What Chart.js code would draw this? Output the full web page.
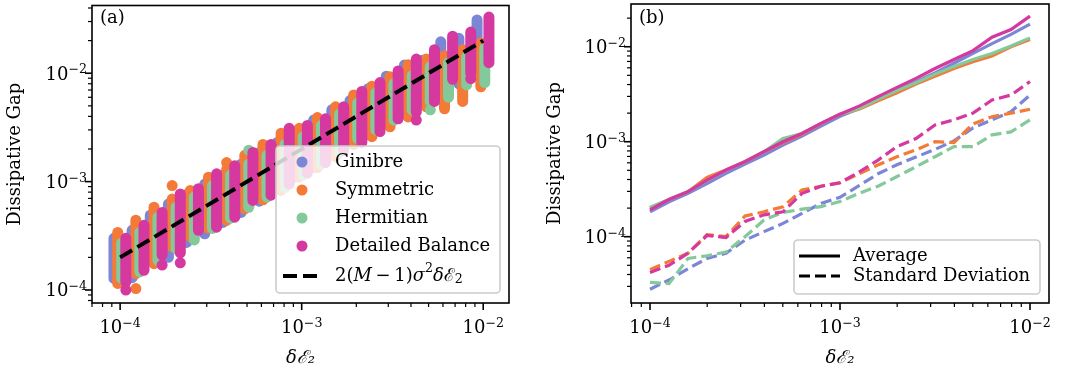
<!DOCTYPE html>
<html>
<head>
<meta charset="utf-8">
<script src="https://cdn.jsdelivr.net/npm/chart.js@4.4.0/dist/chart.umd.min.js"></script>
<style>
  body { margin: 0; background: #fff; }
  .panel { position: absolute; top: 0; }
  #wrapA { left: 0; }
  #wrapB { left: 545px; }
</style>
</head>
<body>
<div class="panel" id="wrapA"><canvas id="chartA" width="545" height="377"></canvas></div>
<div class="panel" id="wrapB"><canvas id="chartB" width="523" height="377"></canvas></div>
<script>
// energy gap values (x axis, log spaced)
const deltaE = [1.0e-4, 1.259e-4, 1.585e-4, 1.995e-4, 2.512e-4, 3.162e-4, 3.981e-4, 5.012e-4, 6.310e-4, 7.943e-4,
  1.0e-3, 1.259e-3, 1.585e-3, 1.995e-3, 2.512e-3, 3.162e-3, 3.981e-3, 5.012e-3, 6.310e-3, 7.943e-3, 1.0e-2];
const ensembles = ['Ginibre', 'Symmetric', 'Hermitian', 'Detailed Balance'];
const colors = ['#7b86d6', '#f47a38', '#84c99a', '#d5389e'];
// small horizontal shift so the four ensembles sit side by side
const xShift = [0.925, 0.97, 1.02, 1.075];

// (a) spread of sampled gaps: lowest and highest sample per column
const ginibreLo = [1.28e-4, 1.3e-4, 1.95e-4, 2.0e-4, 2.75e-4, 3.3e-4, 4.2e-4, 5.4e-4, 6.6e-4, 8.5e-4, 1.1e-3, 1.35e-3, 1.75e-3, 2.3e-3, 2.7e-3, 3.5e-3, 4.4e-3, 5.5e-3, 6.8e-3, 8.0e-3, 1.0e-2];
const ginibreHi = [3.0e-4, 3.55e-4, 4.9e-4, 6.2e-4, 7.6e-4, 9.5e-4, 1.15e-3, 1.45e-3, 1.85e-3, 2.3e-3, 2.9e-3, 3.7e-3, 4.6e-3, 5.6e-3, 7.2e-3, 9.4e-3, 1.19e-2, 1.32e-2, 1.95e-2, 2.1e-2, 3.1e-2];
const symmetricLo = [1.15e-4, 1.42e-4, 1.9e-4, 2.5e-4, 3.1e-4, 3.7e-4, 4.4e-4, 5.6e-4, 6.8e-4, 8.3e-4, 1.1e-3, 1.35e-3, 1.7e-3, 2.2e-3, 2.6e-3, 3.2e-3, 4.6e-3, 4.9e-3, 4.7e-3, 5.5e-3, 7.5e-3];
const symmetricHi = [3.4e-4, 4.4e-4, 5.8e-4, 6.9e-4, 8.3e-4, 1.1e-3, 1.3e-3, 1.75e-3, 2.2e-3, 2.8e-3, 3.1e-3, 3.9e-3, 4.9e-3, 6.3e-3, 7.6e-3, 9.3e-3, 1.2e-2, 1.35e-2, 1.45e-2, 1.65e-2, 1.9e-2];
const hermitianLo = [1.28e-4, 1.47e-4, 1.88e-4, 2.4e-4, 2.9e-4, 3.7e-4, 4.6e-4, 5.8e-4, 7.2e-4, 8.8e-4, 1.15e-3, 1.45e-3, 1.85e-3, 2.5e-3, 3.0e-3, 3.7e-3, 4.6e-3, 5.5e-3, 6.0e-3, 7.8e-3, 8.2e-3];
const hermitianHi = [2.7e-4, 3.4e-4, 4.7e-4, 5.8e-4, 7.2e-4, 9.2e-4, 1.15e-3, 1.45e-3, 1.75e-3, 2.2e-3, 2.6e-3, 3.3e-3, 4.2e-3, 5.3e-3, 6.6e-3, 8.0e-3, 9.5e-3, 1.15e-2, 1.25e-2, 1.4e-2, 1.7e-2];
const balanceLo = [1.19e-4, 1.52e-4, 2.1e-4, 2.2e-4, 3.55e-4, 3.8e-4, 4.7e-4, 6.7e-4, 7.5e-4, 9.5e-4, 1.2e-3, 1.5e-3, 1.95e-3, 2.3e-3, 2.9e-3, 3.8e-3, 4.4e-3, 5.5e-3, 8.8e-3, 1.0e-2, 1.25e-2];
const balanceHi = [3.0e-4, 3.95e-4, 5.2e-4, 7.7e-4, 8.6e-4, 1.18e-3, 1.4e-3, 1.86e-3, 2.2e-3, 3.1e-3, 3.3e-3, 3.8e-3, 4.9e-3, 6.8e-3, 8.2e-3, 1.05e-2, 1.35e-2, 1.65e-2, 2.2e-2, 2.4e-2, 3.3e-2];
// isolated samples outside the dense columns: [column index, gap]
const ginibreOut = [[7, 5.2e-4]];
const symmetricOut = [[1, 1.03e-4], [2, 1.75e-4], [3, 9.2e-4], [6, 1.5e-3], [16, 3.95e-3]];
const hermitianOut = [[7, 1.95e-3], [17, 4.6e-3]];
const balanceOut = [[0, 1.0e-4], [2, 1.7e-4], [3, 1.78e-4], [16, 3.7e-3], [19, 8.9e-3]];
// theory line 2(M-1)sigma^2 dE
const theoryX = [1.0e-4, 1.0e-2];
const theoryY = [2.0e-4, 2.0e-2];

// (b) average and standard deviation of the gap
const ginibreAvg = [1.83e-4, 2.33e-4, 2.86e-4, 3.63e-4, 4.64e-4, 5.82e-4, 7.24e-4, 9.2e-4, 1.15e-3, 1.46e-3, 1.85e-3, 2.24e-3, 2.79e-3, 3.5e-3, 4.28e-3, 5.3e-3, 6.7e-3, 8.5e-3, 1.08e-2, 1.35e-2, 1.73e-2];
const symmetricAvg = [1.99e-4, 2.47e-4, 2.98e-4, 4.2e-4, 5.04e-4, 6.2e-4, 7.85e-4, 9.8e-4, 1.2e-3, 1.55e-3, 1.95e-3, 2.2e-3, 2.7e-3, 3.28e-3, 4.05e-3, 4.9e-3, 5.9e-3, 6.95e-3, 7.97e-3, 1.0e-2, 1.19e-2];
const hermitianAvg = [2.04e-4, 2.47e-4, 3.0e-4, 3.9e-4, 5.0e-4, 6.16e-4, 7.85e-4, 1.08e-3, 1.22e-3, 1.56e-3, 1.95e-3, 2.24e-3, 2.79e-3, 3.45e-3, 4.17e-3, 5.15e-3, 6.2e-3, 7.35e-3, 8.5e-3, 1.02e-2, 1.24e-2];
const balanceAvg = [1.92e-4, 2.47e-4, 2.98e-4, 3.95e-4, 5.04e-4, 6.16e-4, 7.85e-4, 1.0e-3, 1.22e-3, 1.56e-3, 1.95e-3, 2.37e-3, 2.98e-3, 3.73e-3, 4.64e-3, 5.9e-3, 7.35e-3, 9.1e-3, 1.26e-2, 1.52e-2, 2.1e-2];
const ginibreStd = [2.8e-5, 3.5e-5, 4.6e-5, 5.9e-5, 6.7e-5, 9.2e-5, 1.13e-4, 1.38e-4, 1.76e-4, 2.24e-4, 2.6e-4, 3.44e-4, 4.6e-4, 5.73e-4, 6.9e-4, 8.3e-4, 1.02e-3, 1.4e-3, 1.7e-3, 2.07e-3, 3.1e-3];
const symmetricStd = [4.5e-5, 5.5e-5, 6.7e-5, 1.05e-4, 1.0e-4, 1.65e-4, 1.83e-4, 2.07e-4, 3.1e-4, 3.4e-4, 3.7e-4, 4.6e-4, 5.7e-4, 6.95e-4, 8.2e-4, 1.0e-3, 9.8e-4, 1.54e-3, 1.83e-3, 2.0e-3, 2.2e-3];
const hermitianStd = [3.3e-5, 3.2e-5, 5.9e-5, 6.3e-5, 6.9e-5, 1.0e-4, 1.5e-4, 1.8e-4, 1.95e-4, 2.07e-4, 2.35e-4, 2.86e-4, 3.4e-4, 4.3e-4, 5.45e-4, 6.95e-4, 8.9e-4, 8.9e-4, 1.18e-3, 1.27e-3, 1.7e-3];
const balanceStd = [4.2e-5, 5.0e-5, 6.7e-5, 1.03e-4, 9.8e-5, 1.45e-4, 1.7e-4, 1.83e-4, 2.86e-4, 3.4e-4, 3.7e-4, 4.8e-4, 6.4e-4, 8.9e-4, 1.08e-3, 1.5e-3, 1.7e-3, 2.0e-3, 2.75e-3, 3.1e-3, 4.3e-3];

const SERIF = "'DejaVu Serif', serif";
const FS = 18;
const SUPFS = 12.6;
Chart.defaults.font.family = SERIF;
Chart.defaults.color = '#000';

const isDecade = v => Math.abs(Math.log10(v) - Math.round(Math.log10(v))) < 1e-6;

//log axis with matplotlib-like layout (frame, ticks and 10^n labels drawn by plugin)
const logAxis = (pos, min, max, title, size, titlePad) => ({
  type: 'logarithmic', position: pos, min, max,
  grid: {display: false, drawTicks: false},
  border: {display: false},
  ticks: {display: false, autoSkip: false},
  title: {
    display: true, text: title, padding: titlePad,
    font: {size: FS, style: pos === 'bottom' ? 'italic' : 'normal'}
  },
  afterFit: s => { if (pos === 'bottom') s.height = size; else s.width = size; }
});

// "10" with a raised exponent, like matplotlib's mathtext labels
const drawPow = (ctx, x, y, exp, align) => {
  const base = '10';
  const sup = (exp < 0 ? '\u2212' : '') + Math.abs(exp);
  ctx.font = `${FS}px ${SERIF}`;
  const wb = ctx.measureText(base).width;
  ctx.font = `${SUPFS}px ${SERIF}`;
  const ws = ctx.measureText(sup).width;
  const x0 = align === 'center' ? x - (wb + ws) / 2 : x - wb - ws;
  ctx.textAlign = 'left';
  ctx.textBaseline = 'alphabetic';
  ctx.font = `${FS}px ${SERIF}`;
  ctx.fillText(base, x0, y);
  ctx.font = `${SUPFS}px ${SERIF}`;
  ctx.fillText(sup, x0 + wb, y - 6.5);
};

const frameTicks = {
  id: 'frameTicks',
  afterDraw(chart) {
    const {ctx, chartArea: a, scales} = chart;
    ctx.save();
    ctx.strokeStyle = '#000';
    ctx.fillStyle = '#000';
    [scales.x, scales.y].forEach(s => {
      const e0 = Math.floor(Math.log10(s.min)), e1 = Math.ceil(Math.log10(s.max));
      for (let e = e0; e <= e1; e++) {
        for (let m = 1; m <= 9; m++) {
          const v = m * Math.pow(10, e);
          if (v < s.min || v > s.max) continue;
          const p = s.getPixelForValue(v);
          const len = m === 1 ? 7 : 4;
          ctx.lineWidth = m === 1 ? 1.6 : 1.2;
          ctx.beginPath();
          if (s.isHorizontal()) { ctx.moveTo(p, a.bottom); ctx.lineTo(p, a.bottom + len); }
          else { ctx.moveTo(a.left, p); ctx.lineTo(a.left - len, p); }
          ctx.stroke();
          if (isDecade(v)) {
            if (s.isHorizontal()) drawPow(ctx, p, a.bottom + 30, e, 'center');
            else drawPow(ctx, a.left - 5, p + 6.5, e, 'right');
          }
        }
      }
    });
    ctx.lineWidth = 1.6;
    ctx.strokeRect(a.left, a.top, a.right - a.left, a.bottom - a.top);
    ctx.restore();
  }
};

const legendBox = (ctx, x, y, w, h) => {
  ctx.beginPath();
  ctx.roundRect(x, y, w, h, 4);
  ctx.fillStyle = 'rgba(255,255,255,0.8)';
  ctx.fill();
  ctx.strokeStyle = '#cccccc';
  ctx.lineWidth = 1.6;
  ctx.stroke();
};

// draws 2(M-1)sigma^2 dE_2 piece by piece
const drawMath = (ctx, x, y) => {
  const parts = [['2(', 'normal', 0, FS], ['M', 'italic', 0, FS], ['\u2009\u2212\u2009', 'normal', 0, FS], ['1)', 'normal', 0, FS],
    ['\u03c3', 'italic', 0, FS], ['2', 'normal', -7, SUPFS], ['\u03b4', 'italic', 0, FS], ['\u2130', 'normal', 0, FS], ['2', 'normal', 4, SUPFS]];
  parts.forEach(([t, st, dy, sz]) => {
    ctx.font = `${st} ${sz}px ${SERIF}`;
    ctx.fillText(t, x, y + dy);
    x += ctx.measureText(t).width;
  });
};

const decorA = {
  id: 'decorA',
  afterDraw(chart) {
    const ctx = chart.ctx;
    ctx.save();
    ctx.fillStyle = '#000';
    ctx.font = `${FS}px ${SERIF}`;
    ctx.textBaseline = 'middle';
    ctx.fillText('(a)', 100, 18);
    legendBox(ctx, 276, 146, 224, 147);
    const rows = [162, 190, 218, 246];
    ensembles.forEach((name, i) => {
      ctx.fillStyle = colors[i];
      ctx.beginPath();
      ctx.arc(302, rows[i], 5.5, 0, 2 * Math.PI);
      ctx.fill();
      ctx.fillStyle = '#000';
      ctx.font = `${FS}px ${SERIF}`;
      ctx.fillText(name, 335, rows[i]);
    });
    ctx.strokeStyle = '#000';
    ctx.lineWidth = 4;
    ctx.setLineDash([14, 6]);
    ctx.beginPath();
    ctx.moveTo(283, 276);
    ctx.lineTo(320, 276);
    ctx.stroke();
    ctx.setLineDash([]);
    ctx.fillStyle = '#000';
    drawMath(ctx, 335, 276);
    ctx.restore();
  }
};

const decorB = {
  id: 'decorB',
  afterDraw(chart) {
    const ctx = chart.ctx;
    ctx.save();
    ctx.font = `${FS}px ${SERIF}`;
    ctx.textBaseline = 'middle';
    ctx.fillStyle = '#000';
    ctx.fillText('(b)', 94, 18);
    legendBox(ctx, 249, 240, 246, 54);
    ctx.strokeStyle = '#000';
    ctx.lineWidth = 3.2;
    [[256, []], [276, [11, 5]]].forEach(([yy, dash]) => {
      ctx.setLineDash(dash);
      ctx.beginPath();
      ctx.moveTo(254, yy);
      ctx.lineTo(295, yy);
      ctx.stroke();
    });
    ctx.setLineDash([]);
    ctx.fillStyle = '#000';
    ctx.font = `${FS}px ${SERIF}`;
    ctx.fillText('Average', 308, 256);
    ctx.fillText('Standard Deviation', 308, 276);
    ctx.restore();
  }
};

// vertical column of samples drawn as a round-capped stroke from low to high
const columnPoints = (lo, hi, shift) => {
  const pts = [];
  deltaE.forEach((x, k) => {
    pts.push({x: x * shift, y: lo[k]}, {x: x * shift, y: hi[k]}, {x: x * shift, y: null});
  });
  return pts;
};

const lows = [ginibreLo, symmetricLo, hermitianLo, balanceLo];
const highs = [ginibreHi, symmetricHi, hermitianHi, balanceHi];
const outs = [ginibreOut, symmetricOut, hermitianOut, balanceOut];

const setsA = [{
  data: theoryX.map((x, i) => ({x, y: theoryY[i]})),
  borderColor: '#000', borderWidth: 4, borderDash: [14, 6], pointRadius: 0, order: 0
}];
ensembles.forEach((name, i) => {
  setsA.push({
    data: columnPoints(lows[i], highs[i], xShift[i]),
    borderColor: colors[i], borderWidth: 11, borderCapStyle: 'round',
    pointRadius: 0, spanGaps: false, order: 8 - 2 * i
  });
  setsA.push({
    data: outs[i].map(([k, y]) => ({x: deltaE[k] * xShift[i], y})),
    showLine: false, pointRadius: 5.5, pointBorderWidth: 0,
    pointBackgroundColor: colors[i], order: 7 - 2 * i
  });
});

new Chart(document.getElementById('chartA'), {
  type: 'line',
  data: {datasets: setsA},
  options: {
    responsive: false, animation: false,
    layout: {padding: {left: 0, top: 4, right: 36, bottom: 0}},
    plugins: {legend: {display: false}, tooltip: {enabled: false}},
    scales: {
      x: logAxis('bottom', Math.pow(10, -4.137), Math.pow(10, -1.858), '\u03b4\u2130\u2082', 74, {top: 0, bottom: 8}),
      y: logAxis('left', Math.pow(10, -4.12), Math.pow(10, -1.375), 'Dissipative Gap', 92, {top: 4.2, bottom: 0})
    }
  },
  plugins: [frameTicks, decorA]
});

const avgs = [ginibreAvg, symmetricAvg, hermitianAvg, balanceAvg];
const stds = [ginibreStd, symmetricStd, hermitianStd, balanceStd];
const setsB = [];
ensembles.forEach((name, i) => {
  setsB.push({
    data: deltaE.map((x, k) => ({x, y: avgs[i][k]})),
    borderColor: colors[i], borderWidth: 3.2, pointRadius: 0, order: 8 - 2 * i
  });
  setsB.push({
    data: deltaE.map((x, k) => ({x, y: stds[i][k]})),
    borderColor: colors[i], borderWidth: 3.2, borderDash: [11, 5], pointRadius: 0, order: 7 - 2 * i
  });
});

new Chart(document.getElementById('chartB'), {
  type: 'line',
  data: {datasets: setsB},
  options: {
    responsive: false, animation: false,
    layout: {padding: {left: 0, top: 4, right: 19, bottom: 0}},
    plugins: {legend: {display: false}, tooltip: {enabled: false}},
    scales: {
      x: logAxis('bottom', Math.pow(10, -4.1), Math.pow(10, -1.9), '\u03b4\u2130\u2082', 74, {top: 0, bottom: 8}),
      y: logAxis('left', Math.pow(10, -4.698), Math.pow(10, -1.55), 'Dissipative Gap', 86, {top: 0, bottom: 0})
    }
  },
  plugins: [frameTicks, decorB]
});
</script>
</body>
</html>
